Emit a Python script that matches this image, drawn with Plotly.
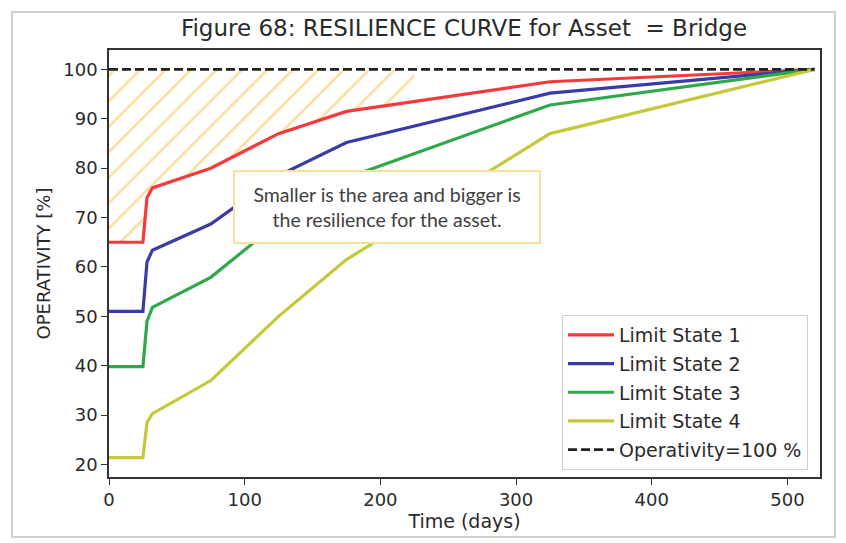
import numpy as np
import plotly.graph_objects as go

# Recovery time (days) and operativity (%) for each limit state
days = [0, 25, 28, 32, 75, 125, 175, 325, 520]
ls1 = [65, 65, 74, 76, 80, 87, 91.5, 97.5, 100]
ls2 = [51, 51, 61, 63.4, 68.7, 78.5, 85.2, 95.2, 100]
ls3 = [39.8, 39.8, 49, 51.8, 57.9, 69, 78, 92.8, 100]
ls4 = [21.4, 21.4, 28.5, 30.3, 37, 50, 61.5, 87, 100]
full_operativity = 100
hatch_end_day = 225

series = [
    ("Limit State 1", ls1, "#f43a3a"),
    ("Limit State 2", ls2, "#3a3aa8"),
    ("Limit State 3", ls3, "#2fa84a"),
    ("Limit State 4", ls4, "#c4c83a"),
]

x_ticks = [0, 100, 200, 300, 400, 500]
y_ticks = [20, 30, 40, 50, 60, 70, 80, 90, 100]

FONT = "DejaVu Sans"
TXT = "#2a2a2a"

fig = go.Figure()

# Hatched area between Limit State 1 and full operativity
d_arr = np.array(days, dtype=float)
r_arr = np.array(ls1, dtype=float)
keep = d_arr < hatch_end_day
hx = list(d_arr[keep]) + [hatch_end_day, hatch_end_day, 0]
hy = list(r_arr[keep]) + [float(np.interp(hatch_end_day, d_arr, r_arr)),
                          full_operativity, full_operativity]
fig.add_trace(go.Scatter(
    x=hx, y=hy, mode="none", fill="toself",
    fillcolor="rgba(0,0,0,0)",
    fillpattern=dict(shape="/", fgcolor="#f8bf45", bgcolor="rgba(0,0,0,0)",
                     size=18, solidity=0.15),
    showlegend=False, hoverinfo="skip",
))

for i, (name, vals, col) in enumerate(series):
    fig.add_trace(go.Scatter(
        x=days, y=vals, mode="lines", name=name,
        line=dict(color=col, width=3.2),
        legendgroup=f"g{i}",
    ))

fig.add_trace(go.Scatter(
    x=[days[0], days[-1]], y=[full_operativity, full_operativity],
    mode="lines", name="Operativity=100 %",
    line=dict(color="#222222", width=2.6, dash="9px,4px"),
    legendgroup="g9",
))

L, R, T, B = 109, 26, 50, 66
W, H = 846, 543
pw, ph = W - L - R, H - T - B

def px_x(p):
    return (p - L) / pw

def px_y(p):
    return (H - B - p) / ph

fig.add_annotation(
    x=205, y=72.2, xref="x", yref="y",
    text="Smaller is the area and bigger is<br>the resilience for the asset.",
    showarrow=False,
    font=dict(family="Lato", size=19.5, color="#404040"),
    align="center",
    bgcolor="white", bordercolor="#f9df98", borderwidth=2, borderpad=5,
    width=294, height=60,
)

# light frame around the whole figure
fig.add_shape(type="rect", xref="paper", yref="paper",
              x0=px_x(12), x1=px_x(835), y0=px_y(537), y1=px_y(12),
              line=dict(color="#cfcfcf", width=2), fillcolor="rgba(0,0,0,0)",
              layer="below")

axis_common = dict(
    showline=True, mirror=True, linecolor="#333333", linewidth=1.5,
    ticks="outside", ticklen=6, tickwidth=1.3, tickcolor="#333333",
    showgrid=False, zeroline=False,
    tickfont=dict(family=FONT, size=18, color=TXT),
)

fig.update_layout(
    width=W, height=H,
    margin=dict(l=L, r=R, t=T, b=B),
    paper_bgcolor="white", plot_bgcolor="white",
    title=dict(text="Figure 68: RESILIENCE CURVE for Asset  = Bridge",
               x=464 / W, xanchor="center",
               y=1 - 28 / H, yanchor="middle",
               font=dict(family=FONT, size=23, color=TXT)),
    xaxis=dict(range=[0, 524], tickvals=x_ticks,
               title=dict(text="Time (days)", standoff=4,
                          font=dict(family=FONT, size=19, color=TXT)),
               **axis_common),
    yaxis=dict(range=[17.47, 103.93], tickvals=y_ticks,
               title=dict(text="OPERATIVITY [%]", standoff=8,
                          font=dict(family=FONT, size=18, color=TXT)),
               **axis_common),
    legend=dict(x=px_x(808), xanchor="right", y=px_y(470), yanchor="bottom",
                bgcolor="white", bordercolor="#d0d0d0", borderwidth=1,
                font=dict(family=FONT, size=19, color=TXT),
                itemwidth=46,
                traceorder="grouped", tracegroupgap=1),
    showlegend=True,
)

fig.write_html("out.html")
